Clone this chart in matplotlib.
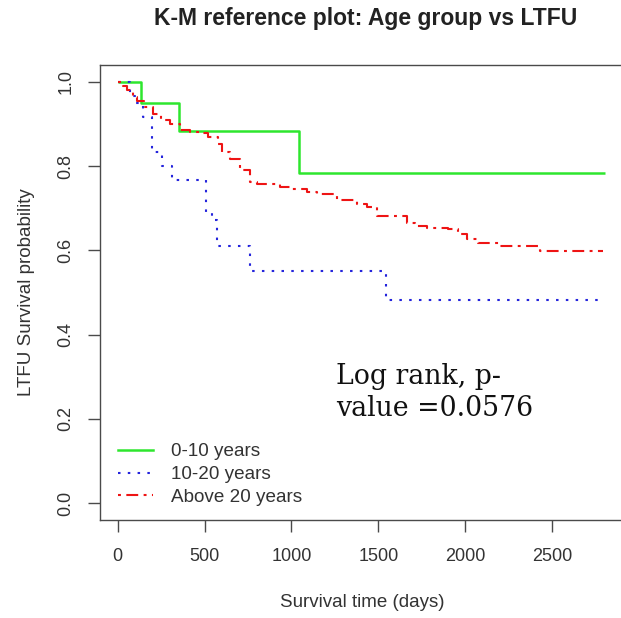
import matplotlib
matplotlib.use("Agg")
import matplotlib.pyplot as plt
from matplotlib.lines import Line2D

plt.rcParams['font.family'] = ['Liberation Sans', 'DejaVu Sans']

# ---- data ----
green_t = [0, 134, 355, 1042, 2805]
green_s = [1.0, 0.950, 0.883, 0.783, 0.783]

blue_t = [0, 70, 100, 145, 195, 255, 315, 508, 540, 573, 763, 1544, 2775]
blue_s = [1.0, 0.967, 0.950, 0.917, 0.833, 0.800, 0.767, 0.690, 0.672, 0.610, 0.551, 0.482, 0.482]

red_t = [0, 30, 55, 90, 110, 150, 203, 250, 301, 358, 416, 473, 520, 577, 598,
         645, 703, 761, 800, 934, 992, 1088, 1145, 1260, 1375, 1433, 1490, 1663,
         1711, 1778, 1900, 1958, 2008, 2073, 2200, 2430, 2792]
red_s = [1.0, 0.990, 0.980, 0.965, 0.955, 0.940, 0.923, 0.910, 0.900, 0.886, 0.882,
         0.878, 0.869, 0.852, 0.833, 0.817, 0.790, 0.762, 0.757, 0.750, 0.745, 0.738,
         0.733, 0.720, 0.710, 0.702, 0.682, 0.666, 0.658, 0.654, 0.650, 0.638, 0.626,
         0.618, 0.610, 0.598, 0.598]

labels = ["0-10 years", "10-20 years", "Above 20 years"]
x_ticks = [0, 500, 1000, 1500, 2000, 2500]
y_ticks = [0.0, 0.2, 0.4, 0.6, 0.8, 1.0]

title = "K-M reference plot: Age group vs LTFU"
xlabel = "Survival time (days)"
ylabel = "LTFU Survival probability"
note_lines = ["Log rank, p-", "value =0.0576"]

# ---- figure ----
W, H = 621, 618
fig = plt.figure(figsize=(W / 100, H / 100), dpi=100)
ax = fig.add_axes([100 / W, 98 / H, 525 / W, 455 / H])

c_green = '#2EE62E'
c_blue = '#2424DC'
c_red = '#EE1414'
ls_blue = (0, (1.2, 3.5))
ls_red = (0, (1.4, 2.6, 5.7, 2.6))

ax.step(green_t, green_s, where='post', color=c_green, lw=1.8, solid_capstyle='butt')
ax.step(blue_t, blue_s, where='post', color=c_blue, lw=1.5,
        linestyle=ls_blue, dash_capstyle='butt')
ax.step(red_t, red_s, where='post', color=c_red, lw=1.5,
        linestyle=ls_red, dash_capstyle='butt')

ax.set_xlim(-102, 2920)
ax.set_ylim(-0.04, 1.04)

ax.set_xticks(x_ticks)
ax.set_xticklabels([str(v) for v in x_ticks])
ax.set_yticks(y_ticks)
ax.set_yticklabels([f"{v:.1f}" for v in y_ticks], rotation=90, va='center')

for s in ax.spines.values():
    s.set_color('#4a4a4a')
    s.set_linewidth(1.0)

ax.tick_params(axis='both', direction='out', length=8.5, width=1.0,
               color='#4a4a4a', labelcolor='#333333', labelsize=13)
ax.tick_params(axis='x', pad=11.5)
ax.tick_params(axis='y', pad=10)

ax.set_xlabel(xlabel, fontsize=13.5, color='#333333', labelpad=21)
ax.set_ylabel(ylabel, fontsize=13.5, color='#333333', labelpad=16)

fig.text(366 / W, 1 - 18 / H, title, ha='center', va='center',
         fontsize=16.5, fontweight='bold', color='#222222')

ax.text(1256, 0.283, note_lines[0], fontsize=19.3, family=['DejaVu Serif'],
        color='#111111', va='baseline', ha='left')
ax.text(1256, 0.206, note_lines[1], fontsize=19.3, family=['DejaVu Serif'],
        color='#111111', va='baseline', ha='left')

handles = [
    Line2D([], [], color=c_green, lw=1.8),
    Line2D([], [], color=c_blue, lw=1.5, linestyle=ls_blue),
    Line2D([], [], color=c_red, lw=1.5, linestyle=ls_red),
]
leg = ax.legend(handles, labels, loc='lower left', bbox_to_anchor=(18 / 525, 14 / 455),
                frameon=False, fontsize=13.6, handlelength=1.85, handletextpad=0.95,
                labelspacing=0.3, borderpad=0, borderaxespad=0)
for t in leg.get_texts():
    t.set_color('#333333')

fig.savefig('out.png', dpi=100)
